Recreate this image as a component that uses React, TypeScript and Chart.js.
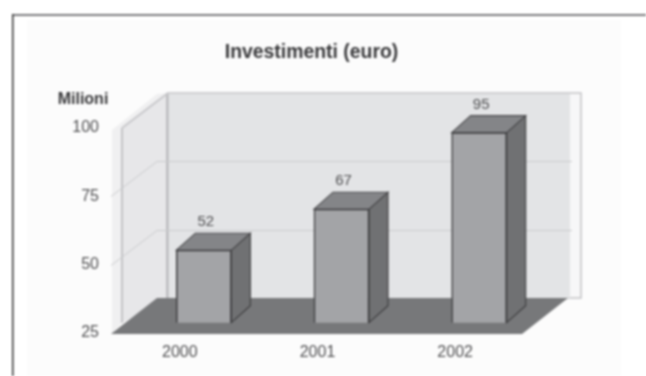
import React, { useEffect, useRef } from "react";
import { Chart, registerables } from "chart.js";

Chart.register(...registerables);

const years = ["2000", "2001", "2002"];
const investments = [52, 67, 95];
const valueTicks = [25, 50, 75, 100];
const chartTitle = "Investimenti (euro)";
const unitLabel = "Milioni";

const FONT = "'Liberation Sans', Arial, sans-serif";
const TEXT = "#505052";
const DEPTH_X = 46;
const DEPTH_Y = 35;
const BAR_DX = 19;
const BAR_DY = 17;
// hidden bar axes place the bars at mid-depth of the box
const BAR_Y_SHIFT = 9 / (205 / 75);
const BAR_X_SHIFT = 24 / 137.67;

function poly(ctx: CanvasRenderingContext2D, pts: number[][], fill: string, stroke?: string, lw = 1) {
  ctx.beginPath();
  pts.forEach(([x, y], i) => (i ? ctx.lineTo(x, y) : ctx.moveTo(x, y)));
  ctx.closePath();
  ctx.fillStyle = fill;
  ctx.fill();
  if (stroke) {
    ctx.strokeStyle = stroke;
    ctx.lineWidth = lw;
    ctx.stroke();
  }
}

const box3d = {
  id: "box3d",
  afterLayout(chart: any) {
    if (chart.titleBlock) {
      chart.titleBlock.left = 0;
      chart.titleBlock.right = 623;
    }
  },
  beforeDraw(chart: any) {
    const ctx: CanvasRenderingContext2D = chart.ctx;
    ctx.save();
    ctx.fillStyle = "#ffffff";
    ctx.fillRect(0, 0, 646, 376);
    ctx.fillStyle = "#fcfcfc";
    ctx.fillRect(27, 20, 594, 356);
    ctx.fillStyle = "#7a7a7c";
    ctx.fillRect(12, 14, 634, 2);
    ctx.fillStyle = "#2e2e2e";
    ctx.fillRect(12, 14, 1.5, 362);
    ctx.restore();
  },
  beforeDatasetsDraw(chart: any) {
    const ctx: CanvasRenderingContext2D = chart.ctx;
    const y = chart.scales.y;
    const { left, right } = chart.chartArea;
    const top = y.getPixelForValue(100);
    const bottom = y.getPixelForValue(25);
    const wx = left + 11;
    ctx.save();
    // outer light band
    poly(ctx, [[left + 1, top + 2], [wx + DEPTH_X - 11, top - DEPTH_Y + 1], [wx + DEPTH_X, top - DEPTH_Y], [wx, top], [wx, bottom - 10], [left + 1, bottom]], "#f0f0f1");
    // left wall
    poly(ctx, [[wx, top], [wx + DEPTH_X, top - DEPTH_Y], [wx + DEPTH_X, bottom - DEPTH_Y], [wx, bottom - 10]], "#e7e7e9");
    // back wall
    poly(ctx, [[wx + DEPTH_X, top - DEPTH_Y], [right + 57, top - DEPTH_Y], [right + 57, bottom - DEPTH_Y], [wx + DEPTH_X, bottom - DEPTH_Y]], "#f7f7f8", "#c2c2c5", 1.5);
    poly(ctx, [[wx + DEPTH_X + 1, top - DEPTH_Y + 1], [right + 46, top - DEPTH_Y + 1], [right + 46, bottom - DEPTH_Y], [wx + DEPTH_X + 1, bottom - DEPTH_Y]], "#e3e4e6");
    // wall edges
    ctx.strokeStyle = "#a9a9ac";
    ctx.lineWidth = 1.2;
    ctx.beginPath();
    ctx.moveTo(wx, bottom - 10);
    ctx.lineTo(wx, top);
    ctx.moveTo(wx + DEPTH_X - 1, top - DEPTH_Y);
    ctx.lineTo(wx + DEPTH_X - 1, bottom - DEPTH_Y);
    ctx.stroke();
    ctx.strokeStyle = "#c8c8cb";
    ctx.lineWidth = 2;
    ctx.beginPath();
    ctx.moveTo(wx, top);
    ctx.lineTo(wx + DEPTH_X, top - DEPTH_Y);
    ctx.stroke();
    // grid lines
    ctx.strokeStyle = "#cacbcd";
    ctx.lineWidth = 1;
    valueTicks.slice(1, 3).forEach((t) => {
      const py = Math.round(y.getPixelForValue(t)) + 0.5;
      ctx.beginPath();
      ctx.moveTo(left, py);
      ctx.lineTo(left + DEPTH_X, py - DEPTH_Y);
      ctx.lineTo(right + 48, py - DEPTH_Y);
      ctx.stroke();
    });
    // floor
    poly(ctx, [[left, bottom + 1], [left + DEPTH_X, bottom - DEPTH_Y], [right + DEPTH_X - 2, bottom - DEPTH_Y], [right - 2, bottom + 1]], "#77787a");
    // bar side and top faces
    chart.getDatasetMeta(0).data.forEach((bar: any) => {
      const l = bar.x - bar.width / 2;
      const r = bar.x + bar.width / 2;
      const t = bar.y;
      const b = bar.base;
      poly(ctx, [[r, t], [r + BAR_DX, t - BAR_DY], [r + BAR_DX, b - BAR_DY], [r, b]], "#707173", "#3c3c3e", 1.1);
      poly(ctx, [[l, t], [l + BAR_DX, t - BAR_DY], [r + BAR_DX, t - BAR_DY], [r, t]], "#848588", "#4a4a4c", 1.1);
    });
    ctx.restore();
  },
  afterDatasetsDraw(chart: any) {
    const ctx: CanvasRenderingContext2D = chart.ctx;
    ctx.save();
    ctx.fillStyle = TEXT;
    ctx.font = `15px ${FONT}`;
    ctx.textAlign = "center";
    ctx.textBaseline = "middle";
    chart.getDatasetMeta(0).data.forEach((bar: any, i: number) => {
      ctx.fillText(String(investments[i]), bar.x + 2, bar.y - 28);
    });
    ctx.font = `bold 16px ${FONT}`;
    ctx.fillStyle = "#38383a";
    ctx.fillText(unitLabel, 83, 100);
    ctx.restore();
  },
};

export default function App() {
  const ref = useRef<HTMLCanvasElement>(null);
  useEffect(() => {
    const chart = new Chart(ref.current!, {
      type: "bar",
      data: {
        labels: years,
        datasets: [
          {
            data: investments.map((v, i) => ({ x: i, y: v })),
            xAxisID: "xBars",
            yAxisID: "yBars",
            base: 25.5,
            barThickness: 55,
            backgroundColor: "#a3a4a7",
            borderColor: "#3c3c3e",
            borderWidth: 1.5,
          } as any,
        ],
      },
      plugins: [box3d],
      options: {
        responsive: false,
        animation: false,
        layout: { padding: { top: 0, right: 122, bottom: 0, left: 0 } },
        plugins: {
          legend: { display: false },
          tooltip: { enabled: false },
          title: {
            display: true,
            text: chartTitle,
            color: "#38383a",
            font: { family: FONT, size: 19.4, weight: "bold" },
            padding: { top: 41.5, bottom: 63.2 },
          },
        },
        scales: {
          x: {
            type: "category",
            position: "bottom",
            offset: true,
            grid: { display: false },
            border: { display: false },
            ticks: { color: TEXT, font: { family: FONT, size: 16 }, padding: 2 },
            afterFit: (s: any) => { s.height = 43; },
          },
          y: {
            type: "linear",
            position: "left",
            min: 25,
            max: 100,
            grid: { display: false },
            border: { display: false },
            ticks: {
              stepSize: 25,
              color: TEXT,
              font: { family: FONT, size: 16 },
              padding: 4,
            },
            afterFit: (s: any) => { s.width = 111; },
          },
          xBars: {
            type: "linear",
            display: false,
            offset: false,
            min: -0.5 - BAR_X_SHIFT,
            max: 2.5 - BAR_X_SHIFT,
          },
          yBars: {
            type: "linear",
            display: false,
            min: 25 - BAR_Y_SHIFT,
            max: 100 - BAR_Y_SHIFT,
          },
        },
      } as any,
    });
    return () => chart.destroy();
  }, []);
  return (
    <div style={{ position: "absolute", left: 0, top: 0, width: 646, height: 376, background: "#fff" }}>
      <canvas ref={ref} width={646} height={376} style={{ display: "block", filter: "blur(0.8px)" }} />
    </div>
  );
}
